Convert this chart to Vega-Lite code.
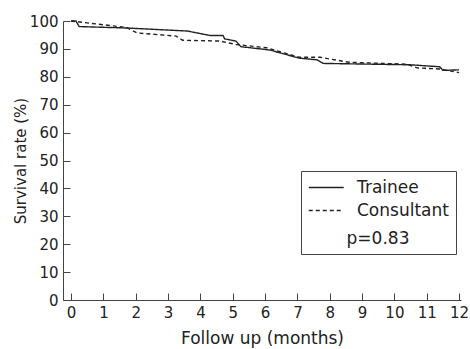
{
  "$schema": "https://vega.github.io/schema/vega-lite/v6.json",
  "width": 398,
  "height": 279,
  "autosize": {"type": "none"},
  "padding": {"left": 63, "top": 21, "right": 9, "bottom": 49},
  "background": "white",
  "config": {
    "view": {"stroke": null},
    "font": "DejaVu Sans",
    "axis": {
      "grid": false,
      "domainColor": "#444",
      "tickColor": "#444",
      "labelColor": "#222",
      "titleColor": "#222",
      "labelFont": "DejaVu Sans",
      "titleFont": "DejaVu Sans",
      "labelFontSize": 15,
      "titleFontSize": 15,
      "titleFontWeight": "normal",
      "tickSize": -7
    }
  },
  "data": {
    "values": [
      {"month": 0, "survival": 100, "group": "Trainee"},
      {"month": 0.15, "survival": 100, "group": "Trainee"},
      {"month": 0.25, "survival": 98, "group": "Trainee"},
      {"month": 1.7, "survival": 97.5, "group": "Trainee"},
      {"month": 3.6, "survival": 96.4, "group": "Trainee"},
      {"month": 4.3, "survival": 94.8, "group": "Trainee"},
      {"month": 4.7, "survival": 94.8, "group": "Trainee"},
      {"month": 4.75, "survival": 93.6, "group": "Trainee"},
      {"month": 5.1, "survival": 92.8, "group": "Trainee"},
      {"month": 5.25, "survival": 90.8, "group": "Trainee"},
      {"month": 6.15, "survival": 89.6, "group": "Trainee"},
      {"month": 7.05, "survival": 86.7, "group": "Trainee"},
      {"month": 7.6, "survival": 86.1, "group": "Trainee"},
      {"month": 7.8, "survival": 84.8, "group": "Trainee"},
      {"month": 10.5, "survival": 84.3, "group": "Trainee"},
      {"month": 11.4, "survival": 83.6, "group": "Trainee"},
      {"month": 11.5, "survival": 82.3, "group": "Trainee"},
      {"month": 12, "survival": 82.5, "group": "Trainee"},
      {"month": 0, "survival": 100, "group": "Consultant"},
      {"month": 1.7, "survival": 97.7, "group": "Consultant"},
      {"month": 2.05, "survival": 95.7, "group": "Consultant"},
      {"month": 3.25, "survival": 94.6, "group": "Consultant"},
      {"month": 3.45, "survival": 93.1, "group": "Consultant"},
      {"month": 4.6, "survival": 92.8, "group": "Consultant"},
      {"month": 5.1, "survival": 91.6, "group": "Consultant"},
      {"month": 6.05, "survival": 90.4, "group": "Consultant"},
      {"month": 7.05, "survival": 87, "group": "Consultant"},
      {"month": 7.7, "survival": 87, "group": "Consultant"},
      {"month": 8.6, "survival": 85.2, "group": "Consultant"},
      {"month": 10.4, "survival": 84.5, "group": "Consultant"},
      {"month": 10.7, "survival": 83.2, "group": "Consultant"},
      {"month": 11.4, "survival": 82.8, "group": "Consultant"},
      {"month": 12, "survival": 81.5, "group": "Consultant"}
    ]
  },
  "mark": {"type": "line", "color": "#222", "strokeWidth": 1.4},
  "encoding": {
    "x": {
      "field": "month",
      "type": "quantitative",
      "scale": {"domain": [-0.25, 12.06], "nice": false, "zero": false},
      "axis": {"values": [0,1,2,3,4,5,6,7,8,9,10,11,12], "title": "Follow up (months)", "titleFontSize": 17, "labelPadding": 12, "titlePadding": 10}
    },
    "y": {
      "field": "survival",
      "type": "quantitative",
      "scale": {"domain": [0, 100], "nice": false},
      "axis": {"values": [0,10,20,30,40,50,60,70,80,90,100], "title": "Survival rate (%)", "titleFontSize": 15, "labelPadding": 12, "titlePadding": 1}
    },
    "strokeDash": {
      "field": "group",
      "type": "nominal",
      "scale": {"domain": ["Trainee", "Consultant"], "range": [[1, 0], [4, 3]]},
      "legend": {
        "title": "p=0.83",
        "titleOrient": "bottom",
        "titleAnchor": "middle",
        "titleFontSize": 17,
        "titleFontWeight": "normal",
        "titleColor": "#222",
        "titlePadding": 12,
        "orient": "none",
        "legendX": 238,
        "legendY": 150,
        "strokeColor": "#444",
        "fillColor": "white",
        "padding": 7,
        "symbolType": "M-1,0H3",
        "symbolSize": 306,
        "symbolStrokeColor": "#222",
        "symbolStrokeWidth": 1.4,
        "labelFontSize": 17,
        "labelColor": "#222",
        "labelOffset": 30,
        "rowPadding": 5
      }
    }
  }
}
